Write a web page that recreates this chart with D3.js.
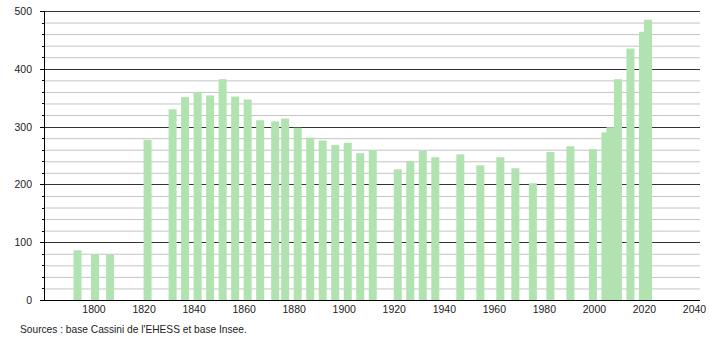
<!DOCTYPE html>
<html>
<head>
<meta charset="utf-8">
<script src="https://cdn.jsdelivr.net/npm/d3@7"></script>
<style>
  body { margin: 0; background: #fff; }
  svg { display: block; font-family: "Liberation Sans", Arial, sans-serif; }
</style>
</head>
<body>
<div id="chart"></div>
<script>
// ── Data ─────────────────────────────────────────────────────────────────
const years = [1793, 1800, 1806, 1821, 1831, 1836, 1841, 1846, 1851, 1856,
  1861, 1866, 1872, 1876, 1881, 1886, 1891, 1896, 1901, 1906, 1911, 1921,
  1926, 1931, 1936, 1946, 1954, 1962, 1968, 1975, 1982, 1990, 1999, 2004,
  2006, 2009, 2014, 2019, 2021];
const population = [86, 79, 79, 277, 330, 351, 360, 354, 382, 352,
  347, 311, 309, 314, 298, 281, 276, 268, 272, 254, 259, 226,
  240, 258, 247, 252, 233, 247, 228, 202, 256, 266, 261, 290,
  299, 382, 435, 464, 485];
const xTicks = [1800, 1820, 1840, 1860, 1880, 1900, 1920, 1940, 1960, 1980, 2000, 2020, 2040];
const yTicks = [0, 100, 200, 300, 400, 500];
const sourceText = "Sources : base Cassini de l'EHESS et base Insee.";

const data = years.map((y, i) => ({ year: y, pop: population[i] }));

// ── SVG ──────────────────────────────────────────────────────────────────
const W = 710, H = 340;
const svg = d3.select("#chart").append("svg").attr("width", W).attr("height", H);

const x = d3.scaleLinear().domain([1780, 2042.2]).range([44, 700]);
const y = d3.scaleLinear().domain([0, 500]).range([300, 11]);

// ── Grid lines ───────────────────────────────────────────────────────────
const minor = d3.range(20, 500, 20).filter((v) => v % 100 !== 0);
svg.append("g")
  .selectAll("line")
  .data(minor)
  .join("line")
  .attr("x1", 44).attr("x2", 700)
  .attr("y1", (d) => y(d) + 0.5).attr("y2", (d) => y(d) + 0.5)
  .attr("stroke", "#c4c4c4").attr("stroke-width", 1);

svg.append("g")
  .selectAll("line")
  .data(yTicks.filter((v) => v > 0))
  .join("line")
  .attr("x1", 44).attr("x2", 700)
  .attr("y1", (d) => Math.round(y(d)) + 0.5).attr("y2", (d) => Math.round(y(d)) + 0.5)
  .attr("stroke", "#333").attr("stroke-width", 1);

// ── Bars ─────────────────────────────────────────────────────────────────
svg.append("g")
  .selectAll("rect")
  .data(data)
  .join("rect")
  .attr("x", (d) => x(d.year) - 3)
  .attr("width", 8)
  .attr("y", (d) => y(d.pop))
  .attr("height", (d) => y(0) - y(d.pop))
  .attr("fill", "#b0e3b0");

// ── Axes ─────────────────────────────────────────────────────────────────
svg.append("line")
  .attr("x1", 44.5).attr("x2", 44.5).attr("y1", y(500)).attr("y2", y(0))
  .attr("stroke", "#000");
svg.append("line")
  .attr("x1", 44).attr("x2", 700).attr("y1", y(0) + 0.5).attr("y2", y(0) + 0.5)
  .attr("stroke", "#000");

// y ticks: major every 100, minor every 20
svg.append("g")
  .selectAll("line")
  .data(d3.range(0, 501, 20))
  .join("line")
  .attr("x1", (d) => (d % 100 === 0 ? 40 : 42)).attr("x2", 44)
  .attr("y1", (d) => Math.round(y(d)) + 0.5).attr("y2", (d) => Math.round(y(d)) + 0.5)
  .attr("stroke", "#000");

svg.append("g")
  .selectAll("text")
  .data(yTicks)
  .join("text")
  .attr("x", 32)
  .attr("y", (d) => y(d) + 4)
  .attr("text-anchor", "end")
  .attr("font-size", 10.5)
  .attr("fill", "#222")
  .text((d) => d);

svg.append("g")
  .selectAll("text")
  .data(xTicks)
  .join("text")
  .attr("x", (d) => x(d))
  .attr("y", 313)
  .attr("text-anchor", "middle")
  .attr("font-size", 10.5)
  .attr("fill", "#222")
  .text((d) => d);

// ── Source ───────────────────────────────────────────────────────────────
svg.append("text")
  .attr("x", 20)
  .attr("y", 333)
  .attr("font-size", 10.2)
  .attr("fill", "#222")
  .text(sourceText);
</script>
</body>
</html>
